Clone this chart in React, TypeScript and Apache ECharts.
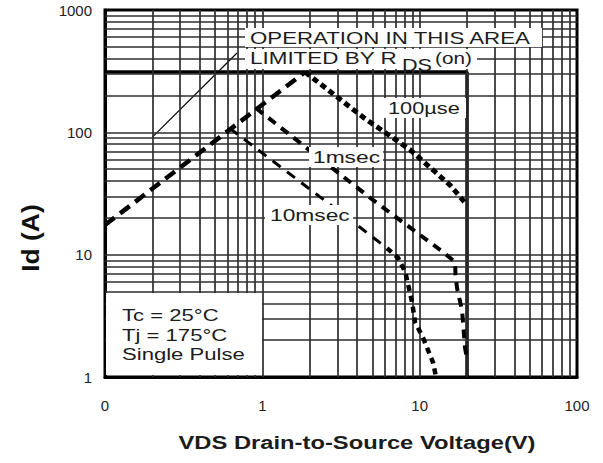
import React, { useEffect, useRef } from "react";
import * as echarts from "echarts";

// ---- data (V in volts, Id in amps) ----
const xTickLabels = ["0", "1", "10", "100"];
const rdsLimit = [[0.1, 17.5], [1.87, 311]];
const pulse100us = [[1.87, 311], [4.4, 132], [8.7, 72], [15.6, 37], [20, 25.5]];
const pulse1ms = [[0.91, 158], [5.06, 27.9], [14.1, 10.5], [16.8, 8.7], [16.9, 6.8], [17.3, 5.3], [18.6, 3.5], [19.4, 1.75], [20, 1.4]];
const pulse10msUpper = [[0.62, 108], [3.77, 18.5], [6.2, 11.3]];
const pulse10msLower = [[6.2, 11.3], [7.3, 9.4], [8.1, 7.2], [8.95, 4.1], [9.35, 2.8], [10.5, 2.1], [12.2, 1.3], [12.7, 1.0]];
const packageLimit = [[0.1, 311], [20, 311], [20, 1]];
const pointerLine = [[0.2, 91.5], [0.69, 445]];
const xDecades = [0.1, 1, 10];
const yDecades = [1, 10, 100];
const gridSteps = [1, 2, 3, 4, 5, 6, 7, 8, 9];

const FF = '"Liberation Sans", Arial, Helvetica, sans-serif';

const xGrid = xDecades.flatMap((d) => gridSteps.map((k) => k * d)).filter((v) => v > 0.1001);
const yGrid = yDecades.flatMap((d) => gridSteps.map((k) => k * d)).filter((v) => v > 1.001);

const lineSeries = (name: string, data: number[][], width: number, dash: any, z = 5) => ({
  name,
  type: "line",
  data,
  symbol: "none",
  showSymbol: false,
  silent: true,
  z,
  lineStyle: { color: "#000", width, type: dash, cap: "butt" },
});

const annot = (text: string, x: number, y: number, extra: any = {}) => ({
  type: "text",
  x,
  y,
  scaleX: extra.scaleX ?? 1.3,
  z: 110,
  style: {
    text,
    fontSize: extra.fontSize ?? 17,
    fontFamily: FF,
    fontWeight: extra.fontWeight ?? "normal",
    fill: "#1c1c1c",
    align: extra.align ?? "left",
    textAlign: extra.align ?? "left",
    verticalAlign: "middle",
    textVerticalAlign: "middle",
  },
});

const box = (x: number, y: number, w: number, h: number) => ({
  type: "rect",
  z: 105,
  shape: { x, y, width: w, height: h },
  style: { fill: "#fff" },
});

const option: any = {
  animation: false,
  backgroundColor: "#fff",
  grid: {
    left: 105,
    right: 26,
    top: 10,
    bottom: 86,
    show: true,
    borderColor: "#000",
    borderWidth: 3,
    backgroundColor: "#fff",
  },
  xAxis: {
    type: "log",
    logBase: 10,
    min: 0.1,
    max: 100,
    axisLine: { show: true, lineStyle: { color: "#000", width: 3 } },
    axisTick: { show: false },
    splitLine: { show: false },
    axisLabel: {
      fontSize: 15,
      fontFamily: FF,
      color: "#222",
      margin: 21,
      formatter: (v: number) => xTickLabels[Math.round(Math.log10(v)) + 1] ?? "",
    },
  },
  yAxis: {
    type: "log",
    logBase: 10,
    min: 1,
    max: 1000,
    axisLine: { show: true, lineStyle: { color: "#000", width: 3 } },
    axisTick: { show: false },
    splitLine: { show: false },
    axisLabel: {
      fontSize: 15,
      fontFamily: FF,
      color: "#222",
      margin: 13,
      formatter: (v: number) => String(Math.round(v)),
    },
  },
  series: [
    {
      name: "grid",
      type: "line",
      data: [],
      silent: true,
      z: 1,
      markLine: {
        silent: true,
        symbol: ["none", "none"],
        label: { show: false },
        emphasis: { disabled: true },
        lineStyle: { color: "#2e2e2e", width: 1.7, type: "solid" },
        data: [...xGrid.map((v) => ({ xAxis: v })), ...yGrid.map((v) => ({ yAxis: v }))],
      },
    },
    lineSeries("limit", packageLimit, 3.5, "solid", 4),
    lineSeries("pointer", pointerLine, 1.2, "solid", 4),
    lineSeries("rds", rdsLimit, 4.5, [12, 7], 6),
    lineSeries("100us", pulse100us, 5, [6, 4], 6),
    lineSeries("1ms", pulse1ms, 4, [9, 7], 6),
    lineSeries("10ms upper", pulse10msUpper, 3, [10, 8], 6),
    lineSeries("10ms lower", pulse10msLower, 4.5, [6, 5], 6),
  ],
  graphic: {
    elements: [
      box(245, 28, 297, 19),
      annot("OPERATION IN THIS AREA", 250, 38, { scaleX: 1.31 }),
      box(245, 49, 232, 20),
      annot("LIMITED BY R", 250, 58, { scaleX: 1.32 }),
      annot("DS", 402, 65, { scaleX: 1.27 }),
      annot("(on)", 435, 58, { scaleX: 1.22 }),
      box(384, 98, 82, 20),
      annot("100µse", 388, 108, { scaleX: 1.28 }),
      box(309, 147, 74, 20),
      annot("1msec", 313, 157, { scaleX: 1.34 }),
      box(265, 205, 88, 20),
      annot("10msec", 270, 215, { scaleX: 1.34 }),
      box(106, 293, 156, 82),
      annot("Tc = 25°C", 122, 315),
      annot("Tj = 175°C", 122, 335),
      annot("Single Pulse", 122, 354),
      annot("VDS Drain-to-Source Voltage(V)", 357, 443, { fontSize: 18, fontWeight: "bold", scaleX: 1.32, align: "center" }),
      {
        type: "text",
        x: 30,
        y: 238,
        rotation: Math.PI / 2,
        scaleX: 1.1,
        z: 110,
        style: {
          text: "Id (A)",
          fontSize: 24,
          fontWeight: "bold",
          fontFamily: FF,
          fill: "#111",
          align: "center",
          textAlign: "center",
          verticalAlign: "middle",
          textVerticalAlign: "middle",
        },
      },
    ],
  },
};

export default function App() {
  const ref = useRef<HTMLDivElement>(null);
  useEffect(() => {
    const chart = echarts.init(ref.current!, undefined, { renderer: "svg" });
    chart.setOption(option);
    return () => chart.dispose();
  }, []);
  return (
    <div
      ref={ref}
      style={{ position: "fixed", left: 0, top: 0, width: 603, height: 463, background: "#fff" }}
    />
  );
}
